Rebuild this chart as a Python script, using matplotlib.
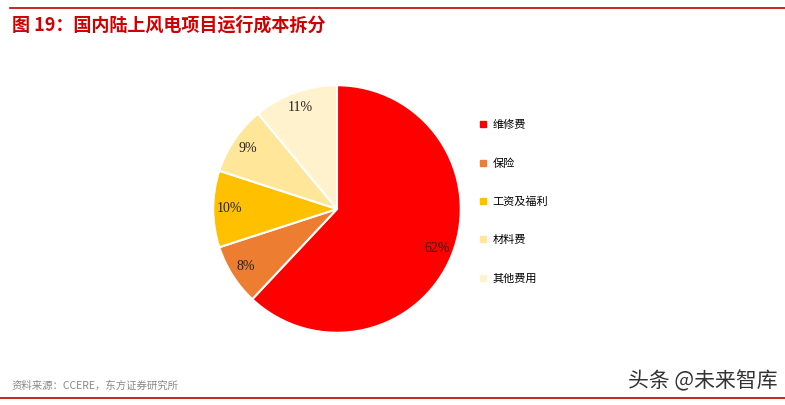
import matplotlib.pyplot as plt
from matplotlib.lines import Line2D

plt.rcParams['font.family'] = ['Noto Sans CJK SC', 'DejaVu Sans']

categories = ['维修费', '保险', '工资及福利', '材料费', '其他费用']
shares = [62, 8, 10, 9, 11]
colors = ['#FF0000', '#ED7D31', '#FFC000', '#FFE699', '#FFF2CC']

fig = plt.figure(figsize=(7.85, 4.05), dpi=100)

# pie axes: centre ~(337,209) px, radius ~125 px
ax = fig.add_axes([212 / 785, 1 - 334 / 405, 250 / 785, 250 / 405])
wedges, texts, autotexts = ax.pie(
    shares, colors=colors, startangle=90, counterclock=False,
    autopct='%d%%', pctdistance=0.87,
    wedgeprops=dict(edgecolor='white', linewidth=1.5),
    textprops=dict(family='Liberation Serif', fontsize=10, color='#222222'))
ax.set_xlim(-1.01, 1.01)
ax.set_ylim(-1.01, 1.01)
ax.set_aspect('equal')

handles = [Line2D([], [], marker='s', linestyle='none', markersize=4,
                  markerfacecolor=c, markeredgecolor=c) for c in colors]
fig.legend(handles, categories, loc='upper left',
           bbox_to_anchor=(480 / 785, 1 - 120 / 405), frameon=False,
           fontsize=8, handlelength=0.6, handletextpad=0.5,
           labelspacing=2.52, borderaxespad=0, borderpad=0)

# title and rules
fig.add_artist(Line2D([10 / 785, 1], [1 - 8 / 405] * 2, color='#C00000', lw=1.2))
fig.text(12 / 785, 1 - 25 / 405, '图 19：国内陆上风电项目运行成本拆分',
         color='#D00000', fontsize=13, fontweight='bold', va='center')
fig.add_artist(Line2D([0, 1], [1 - 398 / 405] * 2, color='#C00000', lw=1.2))
fig.text(12 / 785, 1 - 386 / 405, '资料来源：CCERE，东方证券研究所',
         color='#888888', fontsize=7.5, va='center')
fig.text(628 / 785, 1 - 381 / 405, '头条 @未来智库',
         color='#333333', fontsize=15, va='center')

fig.savefig('out.png', dpi=100)
